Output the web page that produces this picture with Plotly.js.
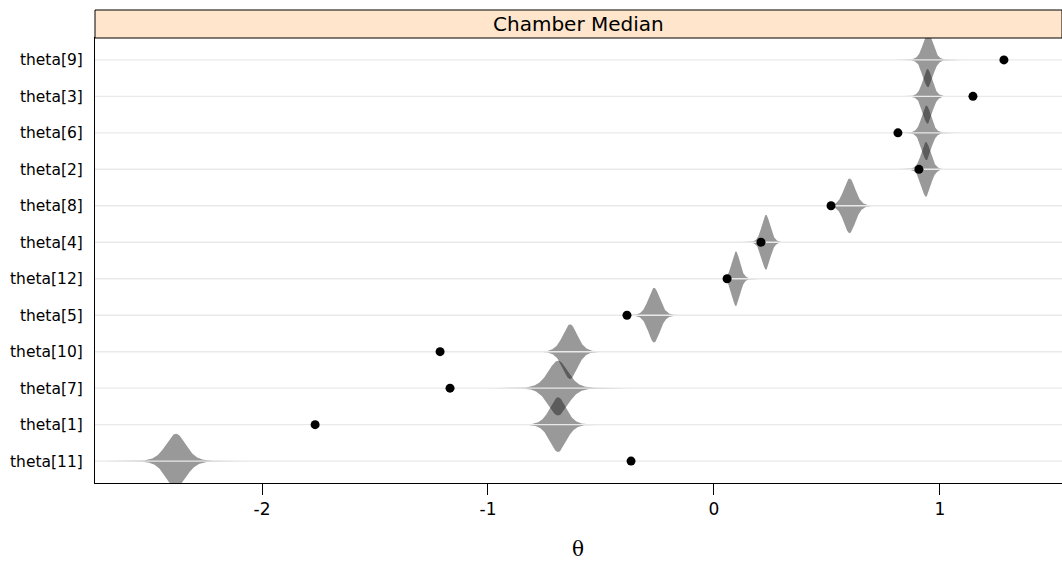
<!DOCTYPE html>
<html>
<head>
<meta charset="utf-8">
<script src="https://cdn.plot.ly/plotly-3.0.1.min.js"></script>
<style>html,body{margin:0;padding:0;background:#fff;}#chart{width:1062px;height:563px;}</style>
</head>
<body>
<div id="chart"></div>
<script>
// Rows from bottom to top
const labels = ["theta[11]","theta[1]","theta[7]","theta[10]","theta[5]","theta[12]","theta[4]","theta[8]","theta[2]","theta[6]","theta[3]","theta[9]"];
// Black points (observed chamber median estimates)
const pointValues = [-0.367, -1.765, -1.168, -1.212, -0.385, 0.058, 0.208, 0.518, 0.907, 0.814, 1.146, 1.283];
// Posterior density centres and spreads
const postCentre = [-2.381, -0.69, -0.69, -0.637, -0.265, 0.097, 0.23, 0.60, 0.938, 0.94, 0.945, 0.947];
const postSpread = [0.045, 0.037, 0.045, 0.033, 0.026, 0.018, 0.019, 0.026, 0.021, 0.021, 0.021, 0.022];
const xTicks = [-2, -1, 0, 1];

const halfHeight = 0.75; // in row units
const nu = 9;
const traces = [];
for (let i = 0; i < labels.length; i++) {
  const pos = i + 1;
  const xs = [], ys = [];
  const N = 240, zmax = 7;
  for (let k = 0; k <= N; k++) {
    const z = -zmax + 2 * zmax * k / N;
    xs.push(postCentre[i] + z * postSpread[i]);
    ys.push(pos + halfHeight * Math.pow(1 + z * z / nu, -(nu + 1) / 2));
  }
  for (let k = N; k >= 0; k--) {
    const z = -zmax + 2 * zmax * k / N;
    xs.push(postCentre[i] + z * postSpread[i]);
    ys.push(pos - halfHeight * Math.pow(1 + z * z / nu, -(nu + 1) / 2));
  }
  traces.push({
    type: 'scatter', mode: 'lines', x: xs, y: ys, fill: 'toself',
    fillcolor: 'rgba(0,0,0,0.4)', line: {width: 0, color: 'rgba(0,0,0,0)'},
    hoverinfo: 'skip', showlegend: false
  });
}
// Row reference lines (drawn over the violins)
const gx = [], gy = [];
for (let i = 0; i < labels.length; i++) {
  gx.push(-5, 5, null); gy.push(i + 1, i + 1, null);
}
traces.push({type: 'scatter', mode: 'lines', x: gx, y: gy, line: {color: '#e9e9e9', width: 1.4}, hoverinfo: 'skip', showlegend: false});
traces.push({
  type: 'scatter', mode: 'markers', x: pointValues, y: labels.map((d, i) => i + 1),
  marker: {color: '#000', size: 9}, showlegend: false, cliponaxis: false
});

const fam = 'DejaVu Sans, Liberation Sans, Arial, sans-serif';
const layout = {
  width: 1062, height: 563,
  margin: {l: 95, r: 0, t: 38, b: 80, pad: 0},
  paper_bgcolor: '#fff', plot_bgcolor: '#fff',
  font: {family: fam, size: 16, color: '#000'},
  showlegend: false,
  xaxis: {
    range: [-2.739, 1.54], tickvals: xTicks, ticktext: xTicks.map(String),
    showgrid: false, zeroline: false, showline: true, linecolor: '#000', linewidth: 1,
    mirror: true, ticks: 'outside', ticklen: 11, tickcolor: '#000',
    tickfont: {family: fam, size: 17, color: '#000'}, fixedrange: true
  },
  yaxis: {
    range: [0.4, 12.6], tickvals: labels.map((d, i) => i + 1), ticktext: labels,
    showgrid: false, zeroline: false, showline: true, linecolor: '#000', linewidth: 1,
    mirror: true, ticks: '', ticklabelstandoff: 8,
    tickfont: {family: fam, size: 15.5, color: '#000'}, fixedrange: true
  },
  shapes: [{
    type: 'rect', xref: 'paper', yref: 'paper', x0: 0, x1: 1, y0: 1, y1: 1 + 28 / 445,
    fillcolor: '#ffe5cc', line: {color: '#000', width: 1}, layer: 'above'
  }],
  annotations: [
    {xref: 'paper', yref: 'paper', x: 0.5, y: 1 + 14 / 445, text: 'Chamber Median', showarrow: false,
     xanchor: 'center', yanchor: 'middle', font: {family: fam, size: 20, color: '#000'}},
    {xref: 'paper', yref: 'paper', x: (578 - 95) / 967, y: -66 / 445, text: 'θ', showarrow: false,
     xanchor: 'center', yanchor: 'middle', font: {family: 'DejaVu Serif, Liberation Serif, serif', size: 20, color: '#000'}}
  ]
};
Plotly.newPlot('chart', traces, layout, {displayModeBar: false, staticPlot: true});
</script>
</body>
</html>
